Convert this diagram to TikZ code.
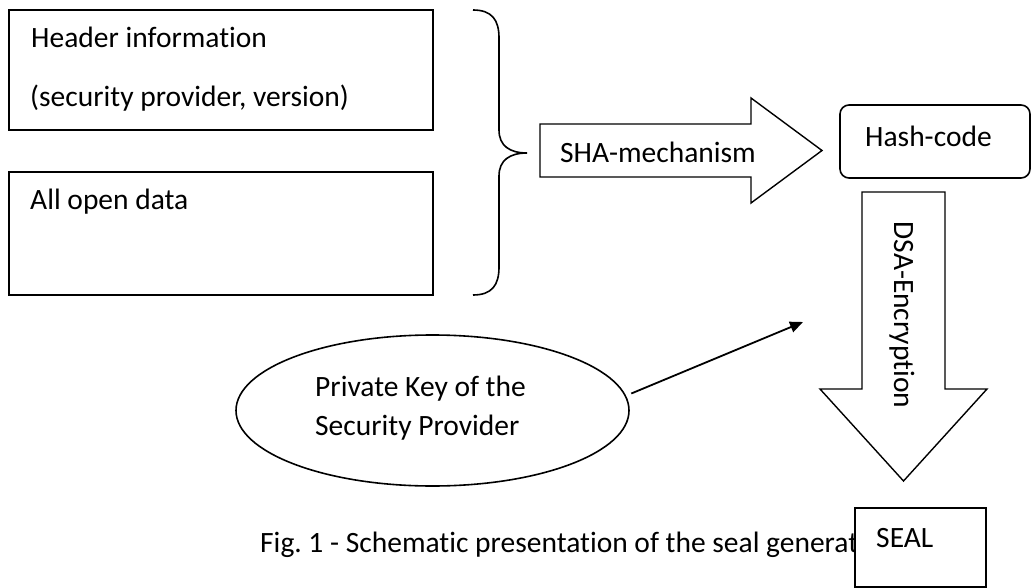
\documentclass[tikz,border=0pt]{standalone}
\usepackage{fontspec}
\setmainfont{Carlito}[Ligatures=NoCommon]
\frenchspacing
\usetikzlibrary{arrows.meta,shapes.geometric,calc}

\tikzset{
  lbl/.style={inner sep=0pt, anchor=base west, font=\fontsize{29.5pt}{35pt}\selectfont},
  box/.style={draw, line width=1.6pt, inner sep=0pt},
  blockarrow/.style={draw, line width=1.4pt, line join=miter},
}

\begin{document}
\begin{tikzpicture}[x=1pt, y=-1pt]
  \useasboundingbox (0,0) rectangle (1032,588);

  % input data blocks
  \node[box, minimum width=424pt, minimum height=120pt] (hdr) at (221,70) {};
  \node[box, minimum width=424pt, minimum height=123pt] (open) at (221,233.5) {};
  \node[lbl] (hdrtxt) at (31,48) {Header information};
  \node[lbl] (hdrtxt2) at (30,107) {(security provider, version)};
  \node[lbl] (opentxt) at (30,209) {All open data};

  % curly brace grouping both blocks
  \draw[line width=1.6pt] (473,10) .. controls (492,10) and (499,20) .. (499,38)
    -- (499,130) .. controls (499,146) and (510,153) .. (527,153)
    .. controls (510,153) and (499,160) .. (499,176)
    -- (499,267) .. controls (499,285) and (492,295) .. (473,295);

  % SHA block arrow
  \draw[blockarrow] (540,124) -- (751,124) -- (751,98) -- (822,150.5)
    -- (751,203) -- (751,177) -- (540,177) -- cycle;
  \node[lbl] (sha) at (560,163) {SHA-mechanism};

  % hash code
  \node[box, rounded corners=9pt, minimum width=190pt, minimum height=73pt] (hash) at (935,141.5) {};
  \node[lbl] (hashtxt) at (865,146.5) {Hash-code};

  % DSA block arrow
  \draw[blockarrow] (862,192) -- (945,192) -- (945,389) -- (987,389)
    -- (903.5,481) -- (820,389) -- (862,389) -- cycle;
  \node[inner sep=0pt, rotate=-90, font=\fontsize{29.5pt}{35pt}\selectfont] (dsa) at (902,315) {DSA-Encryption};

  % private key
  \node[box, ellipse, minimum width=393pt, minimum height=151pt] (key) at (432.5,410.5) {};
  \node[lbl] (keytxt1) at (315,396.5) {Private Key of the};
  \node[lbl] (keytxt2) at (315,435) {Security Provider};
  \coordinate (keyout) at ($(key.east)+(1.5,-17)$);
  \coordinate (keyin) at (803,322);
  \draw[line width=1.8pt, -{Triangle[length=13pt,width=11pt]}] (keyout) -- (keyin);

  % caption, running up to the seal box
  \node[lbl] (caption) at (260,552) {Fig. 1 - Schematic presentation of the seal generat};

  % seal
  \node[box, fill=white, minimum width=131pt, minimum height=79pt] (seal) at (920.5,547.5) {};
  \node[lbl] (sealtxt) at (876,547) {SEAL};
\end{tikzpicture}
\end{document}
